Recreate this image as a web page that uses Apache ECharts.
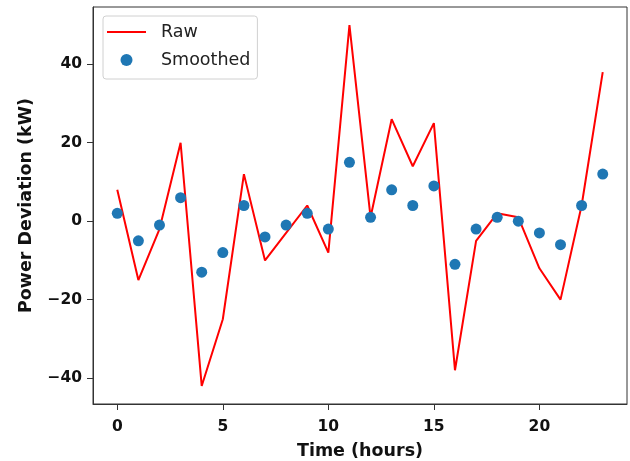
<!DOCTYPE html>
<html>
<head>
<meta charset="utf-8">
<script src="https://cdn.jsdelivr.net/npm/echarts@6/dist/echarts.min.js"></script>
<style>html,body{margin:0;padding:0;background:#fff}#c{width:630px;height:461px}</style>
</head>
<body>
<div id="c"></div>
<script>
const hours = [0,1,2,3,4,5,6,7,8,9,10,11,12,13,14,15,16,17,18,19,20,21,22,23];
const rawValues = [8,-15,-2,20,-42,-25,12,-10,-3,4,-8,50,1,26,14,25,-38,-5,2,1,-12,-20,4,38];
const smoothedValues = [2,-5,-1,6,-13,-8,4,-4,-1,2,-2,15,1,8,4,9,-11,-2,1,0,-3,-6,4,12];
const xTicks = [0,5,10,15,20];
const yTicks = [-40,-20,0,20,40];

const font = 'DejaVu Sans';
const chart = echarts.init(document.getElementById('c'), null, {renderer:'canvas'});
const fmt = v => String(v).replace('-', '\u2212');
chart.setOption({
  animation: false,
  grid: {left: 93, right: 3, top: 7, bottom: 57, show: true, borderColor: '#333', borderWidth: 1,
         containLabel: false, outerBoundsMode: 'none'},
  legend: {
    orient: 'vertical', left: 103, top: 16,
    padding: [7, 7, 10, 4],
    itemWidth: 39, itemHeight: 12, itemGap: 10,
    borderColor: '#d0d0d0', borderWidth: 1, borderRadius: 3,
    backgroundColor: 'rgba(255,255,255,0.8)',
    textStyle: {fontFamily: font, fontSize: 17.5, color: '#222', padding: [0,0,0,10]},
    data: [{name: 'Raw', icon: 'path://M0,0 L40,0 L40,2 L0,2 Z'}, {name: 'Smoothed', icon: 'circle'}]
  },
  xAxis: {
    type: 'value', min: -1.15, max: 24.15,
    name: 'Time (hours)', nameLocation: 'middle', nameGap: 38,
    nameTextStyle: {fontFamily: font, fontSize: 17.5, fontWeight: 'bold', color: '#111'},
    axisLine: {show: true, onZero: false, lineStyle: {color: '#333', width: 1}},
    axisTick: {show: true, length: 6, customValues: xTicks, lineStyle: {color: '#333'}},
    axisLabel: {customValues: xTicks, margin: 15, fontFamily: font, fontSize: 15.5, fontWeight: 'bold', color: '#111', formatter: fmt},
    splitLine: {show: false}
  },
  yAxis: {
    type: 'value', min: -46.6, max: 54.6,
    name: 'Power Deviation (kW)', nameLocation: 'middle', nameGap: 58,
    nameTextStyle: {fontFamily: font, fontSize: 17.5, fontWeight: 'bold', color: '#111'},
    axisLine: {show: true, onZero: false, lineStyle: {color: '#333', width: 1}},
    axisTick: {show: true, length: 6, customValues: yTicks, lineStyle: {color: '#333'}},
    axisLabel: {customValues: yTicks, margin: 11, fontFamily: font, fontSize: 15.5, fontWeight: 'bold', color: '#111', formatter: fmt},
    splitLine: {show: false}
  },
  series: [
    {name: 'Raw', type: 'line', data: hours.map((h,i)=>[h, rawValues[i]]), symbol: 'none',
     lineStyle: {color: '#ff0000', width: 2}, itemStyle: {color: '#ff0000'}, z: 2},
    {name: 'Smoothed', type: 'scatter', data: hours.map((h,i)=>[h, smoothedValues[i]]),
     symbolSize: 11, itemStyle: {color: '#1f77b4', opacity: 1}, z: 3}
  ]
});
</script>
</body>
</html>
